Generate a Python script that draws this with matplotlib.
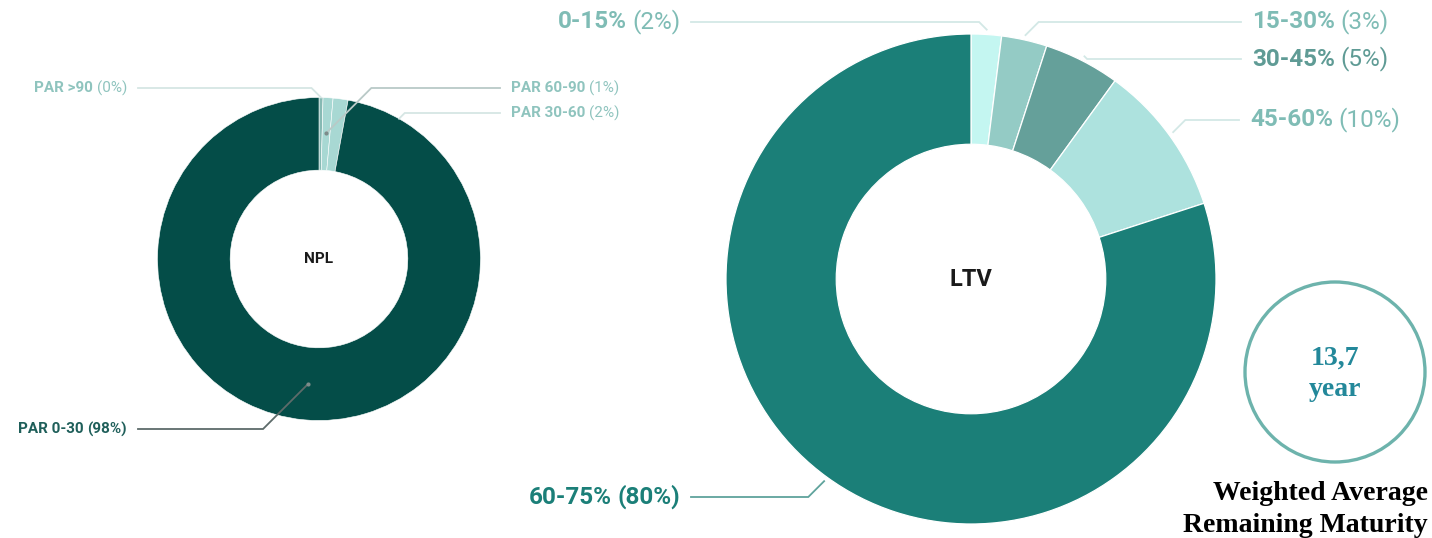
import numpy as np
import matplotlib.pyplot as plt
from matplotlib.patches import Circle

# portfolio split by days past due
npl_names = ['PAR >90', 'PAR 60-90', 'PAR 30-60', 'PAR 0-30']
npl_values = [0.4, 1.0, 1.5, 97.6]
npl_colors = ['#86b9b3', '#a8d8d3', '#a8d8d3', '#044d48']
npl_text_colors = ['#8fc4be', '#8fc4be', '#8fc4be', '#1f5f5a']
npl_line_colors = ['#d6e6e4', '#b9c9c7', '#d6e6e4', '#5d6b6a']

# portfolio split by loan-to-value bucket
ltv_names = ['0-15%', '15-30%', '30-45%', '45-60%', '60-75%']
ltv_values = [2, 3, 5, 10, 80]
ltv_colors = ['#c4f6f1', '#94cbc5', '#65a09a', '#ade2de', '#1b7f78']
ltv_text_colors = ['#7fbcb5', '#7fbcb5', '#5f9b95', '#7fbcb5', '#1b7f78']
ltv_line_colors = ['#d3e8e6', '#d3e8e6', '#d3e8e6', '#d3e8e6', '#5fa39c']

wa_maturity = '13,7'

W, H = 1432, 538
fig = plt.figure(figsize=(W / 100, H / 100), dpi=100)
ax = fig.add_axes([0, 0, 1, 1])
renderer = fig.canvas.get_renderer()


def donut(center, radius, values, colors, edge_lw):
    ax.pie(values, colors=colors, center=center, radius=radius,
           startangle=-90, counterclock=True,
           wedgeprops=dict(width=radius * 0.45, edgecolor='white',
                           linewidth=edge_lw))


def anchor(center, radius, values, i, rf=1.0, nudge=0.0):
    v = np.asarray(values, dtype=float)
    frac = (v[:i].sum() + v[i] / 2) / v.sum()
    theta = np.deg2rad(-90 + 360 * frac + nudge)
    return (center[0] + rf * radius * np.cos(theta),
            center[1] + rf * radius * np.sin(theta))


def text_width(t):
    return t.get_window_extent(renderer=renderer).width


def label(x, y, bold, regular, color, size, ha, all_bold=False):
    kw = dict(color=color, fontsize=size, va='center', family='Roboto')
    gap = size * 0.3
    w_reg = 'bold' if all_bold else 'normal'
    if ha == 'left':
        t1 = ax.text(x, y, bold, ha='left', fontweight='bold', **kw)
        ax.text(x + text_width(t1) + gap, y, regular, ha='left',
                fontweight=w_reg, **kw)
    else:
        t2 = ax.text(x, y, regular, ha='right', fontweight=w_reg, **kw)
        ax.text(x - text_width(t2) - gap, y, bold, ha='right',
                fontweight='bold', **kw)


def leader(p0, lx, ly, ha, color, dot=False):
    side = 1 if ha == 'left' else -1
    dy = abs(ly - p0[1])
    p1 = (p0[0] + side * dy, ly)
    p2 = (lx - side * 11, ly)
    ax.plot([p0[0], p1[0], p2[0]], [p0[1], p1[1], p2[1]],
            color=color, lw=1.3, solid_joinstyle='miter', zorder=5)
    if dot:
        ax.plot(p0[0], p0[1], 'o', ms=3, color='#7d8c8a', mec='none',
                zorder=6)


# NPL donut
npl_c, npl_r = (319, 259), 161.5
donut(npl_c, npl_r, npl_values, npl_colors, 0.4)
npl_pos = [(127, 88, 'right'), (511, 88, 'left'),
           (511, 113, 'left'), (127, 429, 'right')]
npl_anchor = [(1.0, 0), (0.78, 0), (1.0, 22), (0.78, 0)]
for i, name in enumerate(npl_names):
    lx, ly, ha = npl_pos[i]
    rf, nudge = npl_anchor[i]
    p0 = anchor(npl_c, npl_r, npl_values, i, rf, nudge)
    leader(p0, lx, ly, ha, npl_line_colors[i], dot=rf < 1)
    label(lx, ly, name, f'({npl_values[i]:.0f}%)', npl_text_colors[i],
          11, ha, all_bold=(i == len(npl_names) - 1))
ax.text(npl_c[0], npl_c[1], 'NPL', ha='center', va='center',
        fontsize=11, fontweight='bold', family='Roboto', color='#1a1a1a')

# LTV donut
ltv_c, ltv_r = (971, 279), 245
donut(ltv_c, ltv_r, ltv_values, ltv_colors, 0.9)
ltv_pos = [(680, 22, 'right'), (1252, 22, 'left'), (1252, 59, 'left'),
           (1250, 120, 'left'), (680, 497, 'right')]
for i, name in enumerate(ltv_names):
    lx, ly, ha = ltv_pos[i]
    p0 = anchor(ltv_c, ltv_r, ltv_values, i, 1.02)
    leader(p0, lx, ly, ha, ltv_line_colors[i])
    label(lx, ly, name, f'({ltv_values[i]}%)', ltv_text_colors[i],
          17.5, ha, all_bold=(i == len(ltv_names) - 1))
ax.text(ltv_c[0], ltv_c[1], 'LTV', ha='center', va='center',
        fontsize=17, fontweight='bold', family='Roboto', color='#1a1a1a')

# weighted average remaining maturity badge
ax.add_patch(Circle((1335, 372), 90, fill=False, ec='#6db3ac', lw=2.4))
serif = dict(family='Liberation Serif', fontweight='bold', va='center')
ax.text(1335, 358, wa_maturity, fontsize=20, color='#23889a',
        ha='center', **serif)
ax.text(1335, 390, 'year', fontsize=20, color='#23889a', ha='center',
        **serif)
ax.text(1428, 493, 'Weighted Average', fontsize=20, color='black',
        ha='right', **serif)
ax.text(1428, 525, 'Remaining Maturity', fontsize=20, color='black',
        ha='right', **serif)

ax.set_xlim(0, W)
ax.set_ylim(H, 0)
ax.set_aspect('auto')
ax.axis('off')

fig.savefig('out.png', dpi=100, facecolor='white')
